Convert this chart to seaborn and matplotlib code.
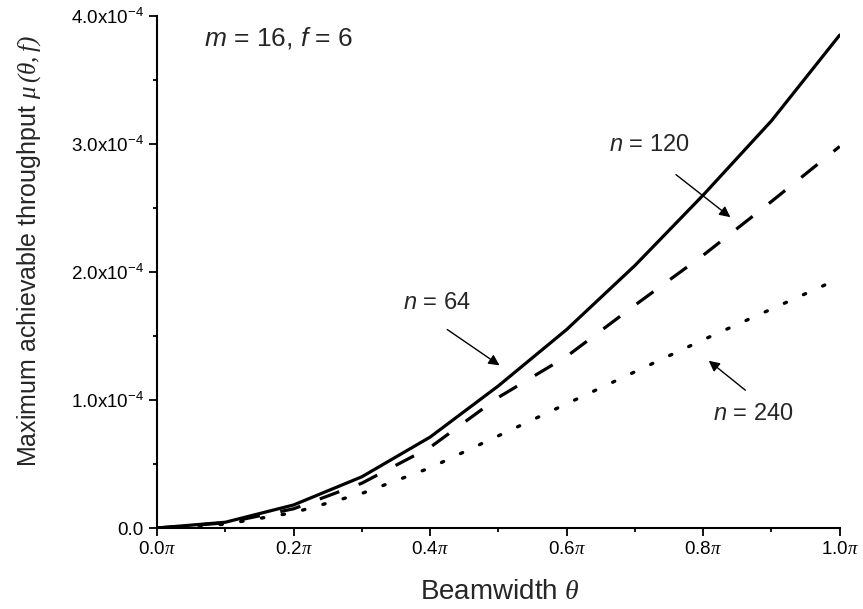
import numpy as np
import pandas as pd
import matplotlib
matplotlib.use("Agg")
import matplotlib.pyplot as plt
import seaborn as sns
from matplotlib.ticker import MultipleLocator, FuncFormatter

# Beamwidth in units of pi
theta = [0.0, 0.1, 0.2, 0.3, 0.4, 0.5, 0.6, 0.7, 0.8, 0.9, 1.0]
# Maximum achievable throughput (x1e-4)
mu_n64 = [0.0, 0.045, 0.18, 0.40, 0.71, 1.11, 1.55, 2.05, 2.60, 3.18, 3.85]
mu_n120 = [0.0, 0.040, 0.15, 0.35, 0.63, 1.02, 1.34, 1.74, 2.13, 2.55, 2.98]
mu_n240 = [0.0, 0.030, 0.12, 0.27, 0.47, 0.72, 0.97, 1.22, 1.47, 1.71, 1.95]

sns.set_style("ticks")
plt.rcParams["font.family"] = ["Liberation Sans", "DejaVu Sans"]
plt.rcParams["mathtext.fontset"] = "custom"
plt.rcParams["mathtext.rm"] = "Liberation Sans"
plt.rcParams["mathtext.it"] = "Liberation Sans:italic"
plt.rcParams["mathtext.cal"] = "Liberation Serif:italic"

fig = plt.figure(figsize=(8.63, 6.09), dpi=100)
ax = fig.add_axes([0.182, 0.133, 0.791, 0.841])

# (values, linestyle, dash pattern, line width)
series = [
    (mu_n64, "-", None, 2.3),
    (mu_n120, "--", (6.5, 6.5), 2.3),
    (mu_n240, ":", (0.7, 5.6), 2.4),
]
for vals, ls, dash, lw in series:
    df = pd.DataFrame({"theta": theta, "mu": np.array(vals) * 1e-4})
    sns.lineplot(data=df, x="theta", y="mu", ax=ax, color="black",
                 linewidth=lw, linestyle=ls)
    line = ax.lines[-1]
    if dash is not None:
        line.set_dashes(dash)
    if ls == ":":
        line.set_dash_capstyle("round")

ax.set_xlim(0, 1.0)
ax.set_ylim(0, 4.0e-4)
ax.xaxis.set_major_locator(MultipleLocator(0.2))
ax.xaxis.set_minor_locator(MultipleLocator(0.1))
ax.yaxis.set_major_locator(MultipleLocator(1e-4))
ax.yaxis.set_minor_locator(MultipleLocator(0.5e-4))
ax.xaxis.set_major_formatter(
    FuncFormatter(lambda v, p: f"{v:.1f}" + r"$\mathcal{\pi}$"))


def yfmt(v, p):
    if abs(v) < 1e-12:
        return "0.0"
    return f"{v * 1e4:.1f}x10$^{{-4}}$"


ax.yaxis.set_major_formatter(FuncFormatter(yfmt))
ax.tick_params(which="major", direction="out", length=6, width=1.3,
               labelsize=13.5, color="black", labelcolor="black")
ax.tick_params(which="minor", direction="out", length=3, width=1.3,
               color="black")
for s in ["left", "bottom"]:
    ax.spines[s].set_linewidth(1.5)
    ax.spines[s].set_color("black")
sns.despine(ax=ax)

ax.set_xlabel(r"Beamwidth $\mathcal{\theta}$", fontsize=20)
ax.set_ylabel(r"Maximum achievable throughput $\mathcal{\mu\,(\theta,f)}$",
              fontsize=18)
ax.xaxis.set_label_coords(0.502, -0.100)
ax.yaxis.set_label_coords(-0.167, 0.541)

ax.text(0.069, 3.83e-4, r"$m$ = 16, $f$ = 6", fontsize=19, va="center")

arrow = dict(arrowstyle="-|>", color="black", lw=1.0, mutation_scale=16)
ax.text(0.360, 1.76e-4, r"$n$ = 64", fontsize=17, va="center")
ax.annotate("", xy=(0.505, 1.258e-4), xytext=(0.4217, 1.5625e-4),
            arrowprops=arrow)
ax.text(0.662, 2.99e-4, r"$n$ = 120", fontsize=17, va="center")
ax.annotate("", xy=(0.843, 2.414e-4), xytext=(0.757, 2.773e-4),
            arrowprops=arrow)
ax.text(0.814, 0.89e-4, r"$n$ = 240", fontsize=17, va="center")
ax.annotate("", xy=(0.805, 1.32e-4), xytext=(0.865, 1.0625e-4),
            arrowprops=arrow)

fig.savefig("out.png", dpi=100)
